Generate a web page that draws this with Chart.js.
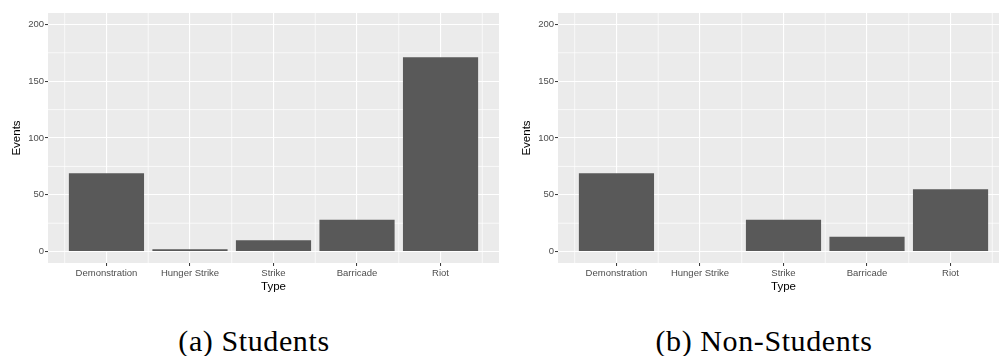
<!DOCTYPE html>
<html>
<head>
<meta charset="utf-8">
<script src="https://cdn.jsdelivr.net/npm/chart.js@4"></script>
<style>
  html, body { margin: 0; padding: 0; background: #ffffff; }
  body { width: 999px; height: 356px; position: relative; overflow: hidden; }
  .panel { position: absolute; top: 0; height: 300px; overflow: hidden; }
  .caption { position: absolute; font-family: "Liberation Serif", "DejaVu Serif", serif; font-size: 30px; letter-spacing: 0.6px; color: #000; text-align: center; white-space: nowrap; line-height: 1; }
</style>
</head>
<body>
<div class="panel" style="left:0px;width:500px;"><canvas id="c1" width="500" height="300"></canvas></div>
<div class="panel" style="left:510px;width:489px;"><canvas id="c2" width="500" height="300"></canvas></div>
<div class="caption" style="left:144px;width:220px;top:326px;">(a) Students</div>
<div class="caption" style="left:634px;width:260px;top:326px;">(b) Non-Students</div>
<script>
const categories = ["Demonstration", "Hunger Strike", "Strike", "Barricade", "Riot"];
const studentEvents = [69, 2, 10, 28, 171];
const nonStudentEvents = [69, 0, 28, 13, 55];
const yTicks = [0, 50, 100, 150, 200];
const yMinorTicks = [25, 75, 125, 175];
const xMinorTicks = [-0.5, 0.5, 1.5, 2.5, 3.5, 4.5];

Chart.defaults.font.family = "'Liberation Sans', Arial, sans-serif";

const panelPlugin = {
  id: 'panel',
  beforeDraw(chart) {
    const {ctx, chartArea: a} = chart;
    ctx.save();
    ctx.fillStyle = '#EBEBEB';
    ctx.fillRect(a.left, a.top, a.right - a.left, a.bottom - a.top);
    ctx.restore();
  },
  beforeDatasetsDraw(chart) {
    const {ctx, chartArea: a, scales} = chart;
    ctx.save();
    ctx.strokeStyle = '#FFFFFF';
    ctx.lineWidth = 0.7;
    ctx.beginPath();
    xMinorTicks.forEach(v => {
      const px = scales.x.getPixelForValue(v);
      ctx.moveTo(px, a.top); ctx.lineTo(px, a.bottom);
    });
    yMinorTicks.forEach(v => {
      const py = scales.y.getPixelForValue(v);
      ctx.moveTo(a.left, py); ctx.lineTo(a.right, py);
    });
    ctx.stroke();
    ctx.restore();
  }
};

function makeChart(id, values) {
  return new Chart(document.getElementById(id), {
    type: 'bar',
    data: {
      datasets: [{
        data: values.map((v, i) => ({x: i, y: v})),
        backgroundColor: '#595959',
        borderWidth: 0,
        barPercentage: 0.9,
        categoryPercentage: 1.0
      }]
    },
    options: {
      responsive: false,
      animation: false,
      devicePixelRatio: 1,
      layout: { padding: { left: 0, right: 1, top: 13, bottom: 0 } },
      plugins: { legend: { display: false }, tooltip: { enabled: false } },
      scales: {
        x: {
          type: 'linear',
          offset: false,
          min: -0.7,
          max: 4.7,
          afterBuildTicks: s => { s.ticks = categories.map((c, i) => ({value: i})); },
          afterFit: s => { s.height = 37; },
          ticks: {
            autoSkip: false, maxRotation: 0, minRotation: 0,
            padding: 2,
            color: '#4D4D4D',
            font: { size: 9.5 },
            callback: v => categories[v]
          },
          grid: {
            offset: false,
            color: '#FFFFFF', lineWidth: 1.1,
            drawTicks: true, tickLength: 3, tickColor: '#333333', tickWidth: 1
          },
          border: { display: false },
          title: {
            display: true, text: 'Type', color: '#000000',
            font: { size: 11.5 }, padding: { top: 0, bottom: 6 }
          }
        },
        y: {
          type: 'linear',
          min: -10,
          max: 210,
          afterBuildTicks: s => { s.ticks = yTicks.map(v => ({value: v})); },
          afterFit: s => { s.width = 48; },
          ticks: {
            padding: 1,
            color: '#4D4D4D',
            font: { size: 9.5 }
          },
          grid: {
            color: '#FFFFFF', lineWidth: 1.1,
            drawTicks: true, tickLength: 3, tickColor: '#333333', tickWidth: 1
          },
          border: { display: false },
          title: {
            display: true, text: 'Events', color: '#000000',
            font: { size: 11.5 }, padding: { top: 10, bottom: 0 }
          }
        }
      }
    },
    plugins: [panelPlugin]
  });
}

makeChart('c1', studentEvents);
makeChart('c2', nonStudentEvents);
</script>
</body>
</html>
